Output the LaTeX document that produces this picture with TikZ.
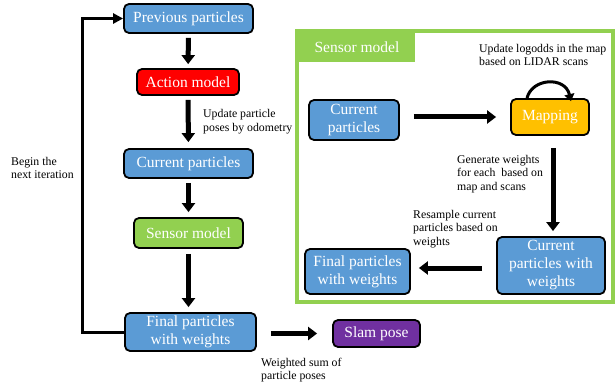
\documentclass[tikz,border=0pt]{standalone}
\usepackage{fontspec}
\setmainfont{Liberation Serif}
\usetikzlibrary{arrows.meta}
\definecolor{boxblue}{HTML}{5B9BD5}
\definecolor{boxred}{HTML}{FF0000}
\definecolor{boxgreen}{HTML}{92D050}
\definecolor{boxorange}{HTML}{FFC000}
\definecolor{boxpurple}{HTML}{7030A0}
\tikzset{
  box/.style={draw=black, line width=1.8pt, rounded corners=5pt, text=white, align=center,
    inner sep=0pt, font=\fontsize{15.5}{18}\selectfont},
  note/.style={anchor=west, align=left, inner sep=0pt, font=\fontsize{11.8}{13.8}\selectfont},
  bigarrow/.style={draw=black, line width=5pt, -{Triangle[width=13pt,length=9pt]}},
}
\begin{document}
\begin{tikzpicture}[x=1pt,y=-1pt]
\useasboundingbox (0,0) rectangle (616,385);
% left column
\node[box, fill=boxblue, minimum width=129, minimum height=29] (prev) at (188.5,18.5) {Previous particles};
\node[box, fill=boxred, minimum width=102, minimum height=26] (action) at (188,82) {Action model};
\node[box, fill=boxblue, minimum width=129, minimum height=29] (curr) at (188.5,163.5) {Current particles};
\node[box, fill=boxgreen, minimum width=109, minimum height=30] (sensor) at (188.5,233) {Sensor model};
\node[box, fill=boxblue, minimum width=131, minimum height=38] (final) at (190.5,332) {Final particles\\with weights};
\node[box, fill=boxpurple, minimum width=87, minimum height=27] (slam) at (376.5,333.5) {Slam pose};

\draw[bigarrow, shorten <=4pt, shorten >=4pt] (prev) -- (action);
\draw[bigarrow, shorten <=4pt, shorten >=6pt] (action) -- (curr);
\draw[bigarrow, shorten <=4pt, shorten >=5pt] (curr) -- (sensor);
\draw[bigarrow, shorten <=5pt, shorten >=5pt] (sensor) -- (final.north -| sensor);
\draw[bigarrow, shorten <=14pt, shorten >=15pt] (final.east |- slam) -- (slam);
\draw[line width=3pt, -{Triangle[width=10pt,length=10pt]}] (final.west) -- ++(-42,0) coordinate (lc) |- (prev.west);

\node[note] (n1) at (203,122) {Update particle\\poses by odometry};
\node[note] (n2) at (11,168) {Begin the\\next iteration};
\node[note] (n3) at (261,370) {Weighted sum of\\particle poses};

% sensor model frame
\node[draw=boxgreen, line width=3.5pt, minimum width=316, minimum height=271, inner sep=0pt] (frame) at (455,166.5) {};
\node[fill=boxgreen, text=white, minimum width=116, minimum height=29, inner sep=0pt,
      font=\fontsize{15.5}{18}\selectfont] (tab) at (357,47.5) {Sensor model};

\node[box, fill=boxblue, minimum width=90, minimum height=40] (icurr) at (354,120) {Current\\particles};
\node[box, fill=boxorange, minimum width=78, minimum height=36] (map) at (550,117) {Mapping};
\node[box, fill=boxblue, minimum width=108, minimum height=57] (cpw) at (551,265.5) {Current\\particles with\\weights};
\node[box, fill=boxblue, minimum width=105, minimum height=45] (ifinal) at (357.5,271.5) {Final particles\\with weights};

\draw[bigarrow, shorten <=14pt, shorten >=14pt] (icurr.east |- map) -- (map);
\draw[bigarrow, shorten <=12pt, shorten >=5pt] (map.south -| 553,0) -- (cpw.north -| 553,0);
\draw[bigarrow, shorten <=14pt, shorten >=8pt] (cpw.west |- 0,268) -- (ifinal.east |- 0,268);
\draw[line width=3pt, -{Triangle[width=10pt,length=7pt]}] ([xshift=-23pt]map.north) .. controls (532,78) and (565,76) .. ([xshift=21pt,yshift=-3pt]map.north);

\node[note] (n4) at (479,55) {Update logodds in the map\\based on LIDAR scans};
\node[note] (n5) at (457,174) {Generate weights\\for each\ \ based on\\map and scans};
\node[note] (n6) at (413,229) {Resample current\\particles based on\\weights};
\end{tikzpicture}
\end{document}
